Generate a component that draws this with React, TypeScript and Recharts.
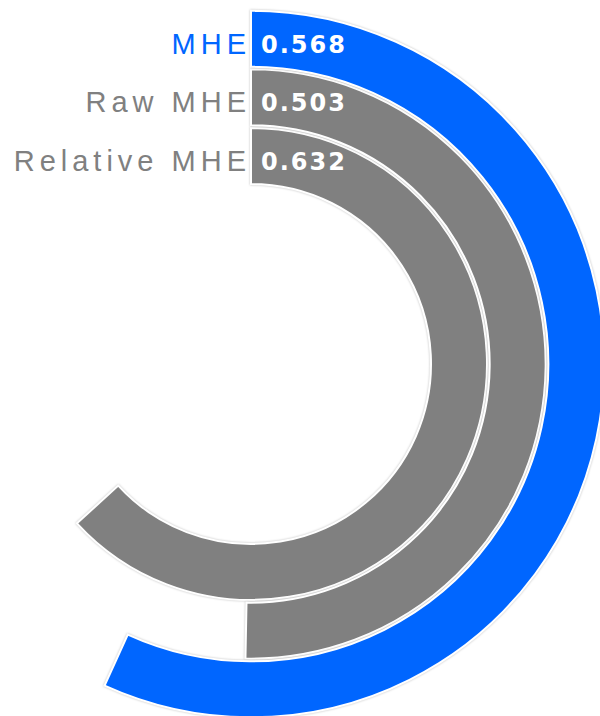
import { RadialBarChart, RadialBar, PolarAngleAxis, PolarRadiusAxis, Cell, LabelList } from 'recharts';

// Categories listed top (outer ring) to bottom (inner ring)
const names = ['MHE', 'Raw MHE', 'Relative MHE'];
const values = [0.568, 0.503, 0.632];
const colors = ['#0066ff', '#808080', '#808080'];

// recharts puts the first row on the innermost ring, so reverse
const chartData = names
  .map((name, i) => ({ name, value: values[i], fill: colors[i] }))
  .reverse();

function bandCenter(viewBox: any) {
  const { cx, cy, innerRadius, outerRadius } = viewBox;
  return { cx, y: cy - (innerRadius + outerRadius) / 2 };
}

function renderValue(props: any) {
  const { viewBox, value } = props;
  if (!viewBox) return null;
  const { cx, y } = bandCenter(viewBox);
  return (
    <text
      x={cx + 10}
      y={y + 6}
      dominantBaseline="central"
      textAnchor="start"
      fill="#ffffff"
      style={{ fontFamily: 'DejaVu Sans', fontWeight: 'bold', fontSize: 24, letterSpacing: 2 }}
    >
      {Number(value).toFixed(3)}
    </text>
  );
}

function renderName(props: any) {
  const { viewBox, value, index } = props;
  if (!viewBox) return null;
  const { cx, y } = bandCenter(viewBox);
  return (
    <text
      x={cx}
      y={y + 5}
      dominantBaseline="central"
      textAnchor="end"
      fill={chartData[index]?.fill}
      style={{ fontFamily: 'Liberation Sans', fontSize: 29, letterSpacing: 5 }}
    >
      {value}
    </text>
  );
}

export default function App() {
  return (
    <div style={{ position: 'absolute', left: 0, top: 0, width: 600, height: 716, background: '#fff' }}>
      <style>{`.recharts-radial-bar-sector { filter: drop-shadow(0 0 1px rgba(0,0,0,0.25)); }`}</style>
      <RadialBarChart
        width={600}
        height={716}
        cx={251}
        cy={364}
        innerRadius={179}
        outerRadius={355}
        barSize={56}
        startAngle={90}
        endAngle={-270}
        data={chartData}
        margin={{ top: 0, right: 0, bottom: 0, left: 0 }}
      >
        <PolarAngleAxis type="number" domain={[0, 1]} tick={false} axisLine={false} />
        <PolarRadiusAxis type="category" dataKey="name" tick={false} axisLine={false} />
        <RadialBar dataKey="value" isAnimationActive={false} stroke="#ffffff" strokeWidth={2}>
          {chartData.map((d) => (
            <Cell key={d.name} fill={d.fill} />
          ))}
          <LabelList dataKey="value" content={renderValue} />
          <LabelList dataKey="name" content={renderName} />
        </RadialBar>
      </RadialBarChart>
    </div>
  );
}
